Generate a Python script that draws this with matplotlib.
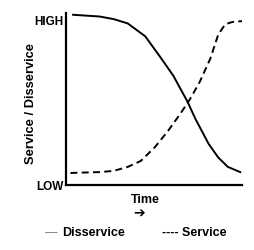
import matplotlib.pyplot as plt

# values, x = time (0-10), y = level (0 low .. 10 high)
dis_x = [0.4, 1.9, 2.7, 3.5, 4.5, 5.35, 6.1, 6.9, 7.35, 8.1, 8.65, 9.2, 9.9]
dis_y = [9.9, 9.8, 9.65, 9.4, 8.65, 7.45, 6.35, 4.85, 3.85, 2.4, 1.6, 1.05, 0.75]

svc_x = [0.25, 1.9, 2.7, 3.5, 4.25, 5.05, 5.8, 6.5, 7.05, 7.6, 8.2, 8.65, 9.05, 9.45, 10.0]
svc_y = [0.7, 0.75, 0.82, 1.05, 1.4, 2.2, 3.15, 4.15, 5.0, 6.0, 7.35, 8.75, 9.35, 9.48, 9.53]

levels = [0, 9.6]
level_labels = ['LOW', 'HIGH']

plt.rcParams['font.family'] = ['Liberation Sans', 'DejaVu Sans']
plt.rcParams['font.weight'] = 'bold'

fig = plt.figure(figsize=(2.55, 2.51), dpi=100)
ax = fig.add_axes([0.259, 0.259, 0.69, 0.685])

ax.plot(dis_x, dis_y, color='black', lw=1.4)
ax.plot(svc_x, svc_y, color='black', lw=1.4, dashes=(3.6, 2.2))

ax.set_xlim(0, 10)
ax.set_ylim(0, 10)
for s in ['top', 'right']:
    ax.spines[s].set_visible(False)
for s in ['left', 'bottom']:
    ax.spines[s].set_linewidth(1.6)
ax.set_xticks([])
ax.set_yticks(levels)
ax.set_yticklabels(level_labels, fontsize=8.5, fontweight='bold')
ax.tick_params(axis='y', length=0, pad=2)

ax.set_ylabel('Service / Disservice', fontsize=9.3, fontweight='bold')
ax.yaxis.set_label_coords(-0.165, 0.477)

fig.text(0.57, 0.205, 'Time', fontsize=9, fontweight='bold', ha='center', va='center')
fig.text(0.545, 0.152, '\u2794', fontsize=10, fontweight='bold', ha='center', va='center',
         family=['DejaVu Sans'])

fig.text(0.175, 0.07, '\u2014', fontsize=9, color='#777777', ha='left', va='center',
         fontweight='normal')
fig.text(0.243, 0.07, 'Disservice', fontsize=9, fontweight='bold', ha='left', va='center')
fig.text(0.635, 0.07, '---- Service', fontsize=9, fontweight='bold', ha='left', va='center')

fig.savefig('out.png', dpi=100)
